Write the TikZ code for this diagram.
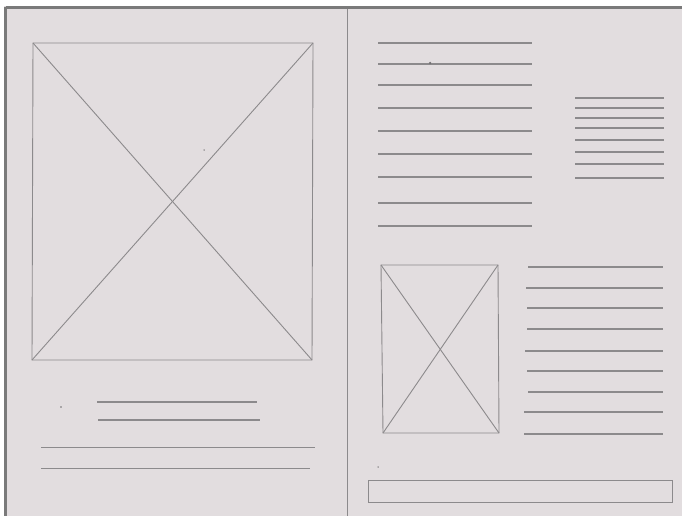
\documentclass[tikz,border=0pt]{standalone}
\definecolor{paper}{HTML}{E2DDDF}
\definecolor{pencil}{HTML}{8C8A8C}
\definecolor{frame}{HTML}{7A7A7A}
\tikzset{
  sk/.style={draw=pencil, line width=0.9pt},
  txt/.style={draw=pencil, line width=1.1pt},
  speck/.style={fill=pencil!80!black, inner sep=0pt, minimum size=2.5pt, circle},
}
\begin{document}
\begin{tikzpicture}[x=1pt,y=-1pt]
\useasboundingbox (0,0) rectangle (682,516);
\fill[white] (0,0) rectangle (682,516);
\fill[paper] (4,6) rectangle (682,516);
\draw[frame, line width=2.5pt] (5.5,7.5) -- (682,7.5);
\draw[frame, line width=2.5pt] (5.5,7.5) -- (5.5,516);
% divider
\draw[sk, line width=0.7pt] (347,9) -- (347,516);

% big image placeholder
\coordinate (A1) at (33,43);
\coordinate (A2) at (313,43);
\coordinate (A3) at (312,360);
\coordinate (A4) at (32,360);
\draw[sk] (A1) -- (A2) -- (A3) -- (A4) -- cycle;
\draw[sk] (A1) -- (A3);
\draw[sk] (A2) -- (A4);

% left caption lines
\coordinate (l1a) at (97,402); \coordinate (l1b) at (257,402);
\coordinate (l2a) at (98,420); \coordinate (l2b) at (260,420);
\coordinate (l3a) at (41,447); \coordinate (l3b) at (315,447);
\coordinate (l4a) at (41,468); \coordinate (l4b) at (310,468);
\draw[txt] (l1a) -- (l1b);
\draw[txt] (l2a) -- (l2b);
\draw[sk] (l3a) -- (l3b);
\draw[sk] (l4a) -- (l4b);

% right top text column
\foreach \y in {43,64,85,108,131,154,177,203,226}{
  \draw[txt] (378,\y) -- (532,\y);
}
% right small column
\foreach \y in {98,108,118,128,140,152,164,178}{
  \draw[txt] (575,\y) -- (664,\y);
}

% small image placeholder
\coordinate (B1) at (381,265);
\coordinate (B2) at (498,265);
\coordinate (B3) at (499,433);
\coordinate (B4) at (383,433);
\draw[sk] (B1) -- (B2) -- (B3) -- (B4) -- cycle;
\draw[sk] (B1) -- (B3);
\draw[sk] (B2) -- (B4);

% lines beside small image
\foreach \xa/\y in {528/267,526/288,527/308,527/329,525/351,527/371,528/392,524/412,524/434}{
  \draw[txt] (\xa,\y) -- (663,\y);
}

% bottom bar
\coordinate (C1) at (368,480);
\coordinate (C2) at (672,502);
\draw[sk] (C1) rectangle (C2);

% specks
\node[speck] (s1) at (430,63) {};
\node[speck, minimum size=1.8pt] (s2) at (61,407) {};
\node[speck, minimum size=1.5pt] (s3) at (204,150) {};
\node[speck, minimum size=1.5pt] (s4) at (378,467) {};
\end{tikzpicture}
\end{document}
